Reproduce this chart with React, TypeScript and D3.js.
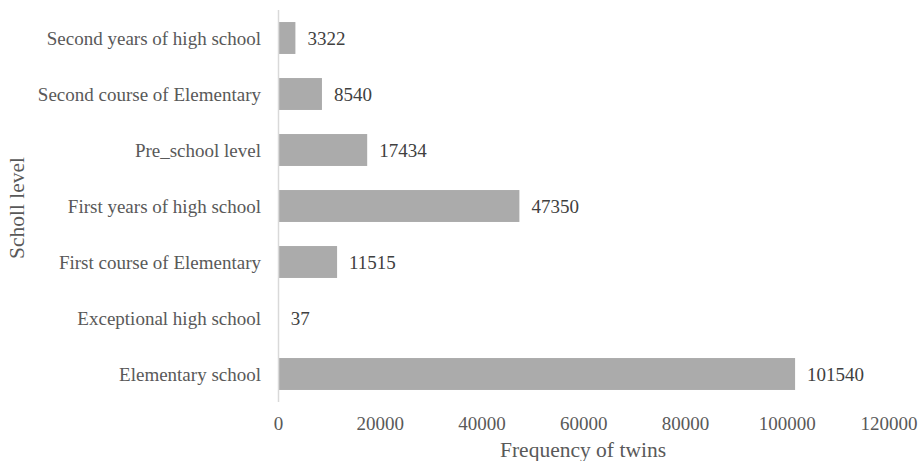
import React from "react";
import * as d3 from "d3";

// School levels, top to bottom, with the number of twins at each level
const levels = [
  "Second years of high school",
  "Second course of Elementary",
  "Pre_school level",
  "First years of high school",
  "First course of Elementary",
  "Exceptional high school",
  "Elementary school",
];
const counts = [3322, 8540, 17434, 47350, 11515, 37, 101540];
const xTicks = [0, 20000, 40000, 60000, 80000, 100000, 120000];

const W = 919;
const H = 461;
const FONT = "'Liberation Serif', 'Times New Roman', serif";

export default function App() {
  const x = d3.scaleLinear().domain([0, 120000]).range([278.5, 889]);
  const y = d3.scaleBand<string>().domain(levels).range([10, 402]).paddingInner(0.43).paddingOuter(0.215);
  const bw = y.bandwidth();

  return (
    <svg
      width={W}
      height={H}
      style={{ position: "absolute", left: 0, top: 0, background: "#fff" }}
      fontFamily={FONT}
    >
      {levels.map((lv, i) => {
        const yc = (y(lv) ?? 0) + bw / 2;
        return (
          <g key={lv}>
            <rect x={x(0)} y={y(lv)} width={x(counts[i]) - x(0)} height={bw} fill="#ababab" />
            <text x={261} y={yc} dy="0.35em" textAnchor="end" fontSize={19} fill="#595959">
              {lv}
            </text>
            <text x={x(counts[i]) + 12} y={yc} dy="0.35em" fontSize={19} fill="#404040">
              {counts[i]}
            </text>
          </g>
        );
      })}
      <line x1={x(0)} x2={x(0)} y1={10} y2={402} stroke="#d9d9d9" strokeWidth={1.5} />
      {xTicks.map((t) => (
        <text key={t} x={x(t)} y={430} textAnchor="middle" fontSize={19} fill="#595959">
          {t}
        </text>
      ))}
      <text x={583} y={457} textAnchor="middle" fontSize={21.5} fill="#595959">
        Frequency of twins
      </text>
      <text
        transform={`translate(24,208) rotate(-90)`}
        textAnchor="middle"
        fontSize={21.5}
        fill="#595959"
      >
        Scholl level
      </text>
    </svg>
  );
}
